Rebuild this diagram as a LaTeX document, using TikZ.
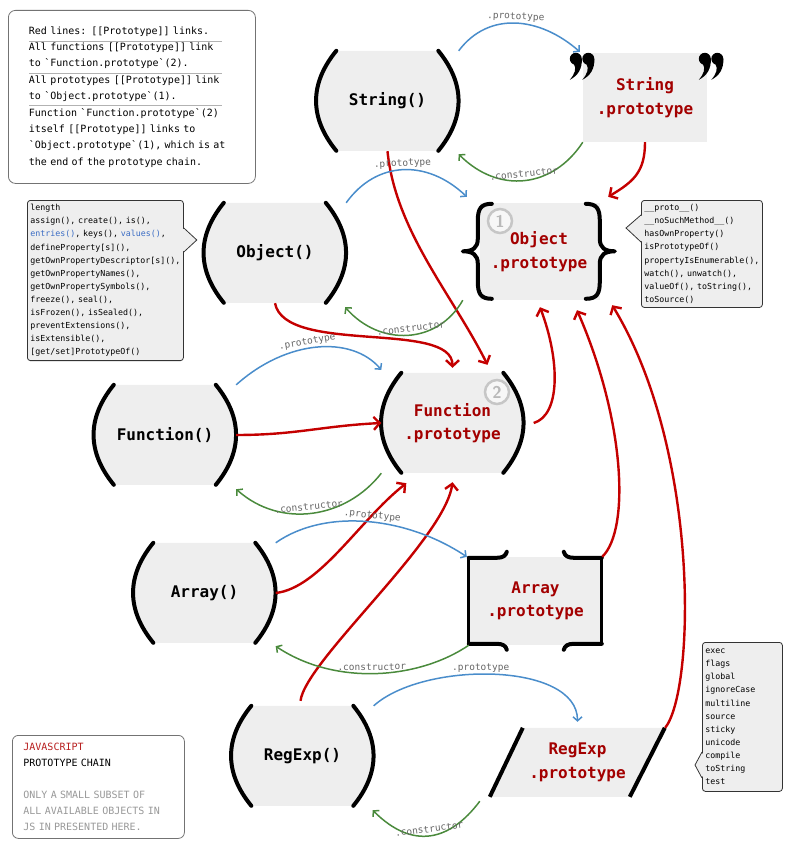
\documentclass[tikz,border=0pt]{standalone}
\usepackage{fontspec}
\setmonofont{DejaVu Sans Mono}
\usetikzlibrary{arrows.meta,calc,backgrounds}

\definecolor{boxgray}{HTML}{EEEEEE}
\definecolor{protored}{HTML}{A30000}
\definecolor{linkred}{HTML}{C40000}
\definecolor{protoblue}{HTML}{4A8DCB}
\definecolor{ctorgreen}{HTML}{4A8A3C}
\definecolor{listblue}{HTML}{3A6CC4}
\definecolor{titlered}{HTML}{B82020}

\tikzset{
  ctor/.style={minimum width=142pt,minimum height=100pt,inner sep=0pt,font=\ttfamily\bfseries\fontsize{16}{20}\selectfont},
  proto/.style={inner sep=0pt,align=center,text=protored,font=\ttfamily\bfseries\fontsize{16}{23.5}\selectfont},
  num/.style={circle,draw=gray!45,line width=2.5pt,fill=gray!6,text=gray!55,minimum size=24pt,inner sep=0pt,font=\sffamily\bfseries\fontsize{17}{17}\selectfont},
  listbox/.style={draw=black!80,fill=boxgray,rounded corners=3pt,line width=0.8pt,align=left,inner xsep=3pt,inner ysep=4pt,font=\ttfamily\fontsize{8.3}{13.1}\selectfont},
  notebox/.style={draw=black!55,fill=white,rounded corners=7pt,line width=0.8pt,align=left,font=\ttfamily\fontsize{10}{16.4}\selectfont},
  link/.style={->,linkred,line width=2.4pt,>={Straight Barb[length=6pt,width=13pt]}},
  protolink/.style={->,protoblue,line width=1.5pt,>={Straight Barb[length=4pt,width=9pt]}},
  ctorlink/.style={->,ctorgreen,line width=1.5pt,>={Straight Barb[length=4pt,width=9pt]}},
  lbl/.style={sloped,above,inner sep=1pt,text=black!60,font=\ttfamily\fontsize{9.5}{10}\selectfont},
  backlbl/.style={lbl,inner sep=2.5pt},
  paren/.style={line width=4pt,line cap=round,line join=round},
}

\begin{document}
\begin{tikzpicture}[x=1pt,y=-1pt]
\useasboundingbox (0,0) rectangle (791,848);

\node[ctor] (str) at (387.5,101) {String()};
\node[ctor] (obj) at (275,253)   {Object()};
\node[ctor] (fun) at (165,435)   {Function()};
\node[ctor] (arr) at (204.5,593) {Array()};
\node[ctor] (reg) at (302.5,756) {RegExp()};

\node[proto,minimum width=124pt,minimum height=89pt] (strp) at (645,97.5)  {String\\.prototype};
\node[proto,minimum width=152pt,minimum height=97pt] (objp) at (539,251.5) {Object\\.prototype};
\node[ctor,proto]                                    (funp) at (452.5,423) {Function\\.prototype};
\node[proto,minimum width=133pt,minimum height=88pt] (arrp) at (535.5,601) {Array\\.prototype};
\node[proto,minimum width=175pt,minimum height=69pt] (regp) at (577.5,762.5) {RegExp\\.prototype};

\node[num] (one) at (500,221) {1};
\node[num] (two) at (497,392) {2};

\begin{scope}[on background layer]
  \foreach \n in {str,obj,fun,arr,reg,funp}{
    \begin{scope}[shift={(\n.north west)}]
      \fill[boxgray] (20,0) .. controls (-7,33) and (-7,67) .. (20,100) -- (122,100) .. controls (149,67) and (149,33) .. (122,0) -- cycle;
      \draw[paren] (20,0) .. controls (-7,33) and (-7,67) .. (20,100);
      \draw[paren] (122,0) .. controls (149,33) and (149,67) .. (122,100);
    \end{scope}
  }
  \begin{scope}[shift={(strp.north west)}]
    \fill[boxgray] (0,0) rectangle (124,89);
    \foreach \h in {-7,5.5,122,134.5}{
      \fill (\h,6) circle (6);
      \fill (\h+6,6) .. controls (\h+6.5,16) and (\h+2,23) .. (\h-6,27) .. controls (\h-1,21) and (\h+1,16) .. (\h-2,11) -- cycle;
    }
  \end{scope}
  \begin{scope}[shift={(objp.north west)}]
    \fill[boxgray] (17,0) rectangle (137,97);
    \draw[paren] (29,1) .. controls (18,1) and (15,6) .. (15,18) -- (15,36) .. controls (15,45) and (10,48.5) .. (0,48.5) .. controls (10,48.5) and (15,52) .. (15,61) -- (15,79) .. controls (15,91) and (18,96) .. (29,96);
    \draw[paren] (123,1) .. controls (134,1) and (137,6) .. (137,18) -- (137,36) .. controls (137,45) and (142,48.5) .. (152,48.5) .. controls (142,48.5) and (137,52) .. (137,61) -- (137,79) .. controls (137,91) and (134,96) .. (123,96);
  \end{scope}
  \begin{scope}[shift={(arrp.north west)}]
    \fill[boxgray] (0,0) rectangle (133,88);
    \draw[line width=3pt] (0,0) -- (0,88) (133,0) -- (133,88);
    \draw[paren] (0,1) -- (28,1) .. controls (34,1) and (37,-1) .. (38,-5)
                 (0,87) -- (28,87) .. controls (34,87) and (37,89) .. (38,93)
                 (133,1) -- (105,1) .. controls (99,1) and (96,-1) .. (95,-5)
                 (133,87) -- (105,87) .. controls (99,87) and (96,89) .. (95,93);
  \end{scope}
  \begin{scope}[shift={(regp.north west)}]
    \fill[boxgray] (33,0) -- (175,0) -- (140,69) -- (0,69) -- cycle;
    \draw[line width=4pt] (33,0) -- (0,69) (175,0) -- (140,69);
  \end{scope}
\end{scope}

\draw[link] (str.south) .. controls +(8,80) and +(-35,-70) .. ($(funp.north)+(35,-8)$);
\draw[link] (strp.south) .. controls +(0,30) and +(25,-15) .. ($(objp.north east)+(-7,-6)$);
\draw[link] (obj.south) .. controls +(10,52) and +(0,-48) .. ($(funp.north)+(0,-5)$);
\draw[link] (fun.east) .. controls +(60,0) and +(-60,3) .. (funp.west);
\draw[link] ($(funp.east)+(10,0)$) .. controls +(27,-8) and +(20,53) .. ($(objp.south)+(1,7)$);
\draw[link] (arr.east) .. controls +(44,-5) and +(-47,37) .. ($(funp.south west)+(25,10)$);
\draw[link] ($(reg.north)+(-2,-5)$) .. controls +(5,-40) and +(-8,58) .. ($(funp.south)+(0,9)$);
\draw[link] (arrp.north east) .. controls +(28,-27) and +(48,110) .. ($(objp.south)+(38,10)$);
\draw[link] (regp.north east) .. controls +(30,-38) and +(88,145) .. ($(objp.south east)+(-3,5)$);

\draw[protolink] (str.north east) .. controls +(30,-40) and +(-40,-35) .. ($(strp.north west)+(-3,-1)$) node[lbl,pos=0.5] {.prototype};
\draw[protolink] (obj.north east) .. controls +(30,-42) and +(-40,-38) .. ($(objp.north west)+(4,-6)$) node[lbl,pos=0.5] {.prototype};
\draw[protolink] (fun.north east) .. controls +(50,-45) and +(-30,-35) .. ($(funp.north west)+(0,-3)$) node[lbl,pos=0.45] {.prototype};
\draw[protolink] (arr.north east) .. controls +(50,-35) and +(-60,-40) .. ($(arrp.north west)+(-2,0)$) node[lbl,pos=0.52] {.prototype};
\draw[protolink] (reg.north east) .. controls +(50,-45) and +(0,-60) .. ($(regp.north)+(0,-6)$) node[lbl,pos=0.45] {.prototype};

\draw[ctorlink] (strp.south west) .. controls +(-30,46) and +(40,40) .. ($(str.south east)+(0,3)$) node[backlbl,pos=0.5] {.constructor};
\draw[ctorlink] (objp.south west) .. controls +(-25,44) and +(35,40) .. ($(obj.south east)+(-1,4)$) node[backlbl,pos=0.47] {.constructor};
\draw[ctorlink] (funp.south west) .. controls +(-35,45) and +(45,40) .. ($(fun.south east)+(0,4)$) node[backlbl,pos=0.52] {.constructor};
\draw[ctorlink] (arrp.south west) .. controls +(-50,34) and +(60,40) .. ($(arr.south east)+(0,3)$) node[backlbl,pos=0.52] {.constructor};
\draw[ctorlink] ($(regp.south west)+(-10,4)$) .. controls +(-30,40) and +(40,40) .. ($(reg.south east)+(-1,4)$) node[backlbl,pos=0.5] {.constructor};

\node[notebox,anchor=north west,text width=206pt,inner xsep=20.5pt,minimum height=173pt] (note) at (8,10)
  {Red lines: [[Prototype]] links.\\All functions [[Prototype]] link\\to `Function.prototype`(2).\\All prototypes [[Prototype]] link\\to `Object.prototype`(1).\\Function `Function.prototype`(2)\\itself [[Prototype]] links to\\`Object.prototype`(1), which is at\\the end of the prototype chain.};
\foreach \s in {32,63.5,96}
  \draw[black!30,line width=1pt] ($(note.north west)+(21,\s)$) -- ++(193,0);

\node[listbox,anchor=north west,text width=150pt] (objlist) at (27,200)
  {length\\assign(), create(), is(),\\{\color{listblue}entries()}, keys(), {\color{listblue}values()},\\defineProperty[s](),\\getOwnPropertyDescriptor[s](),\\getOwnPropertyNames(),\\getOwnPropertySymbols(),\\freeze(), seal(),\\isFrozen(), isSealed(),\\preventExtensions(),\\isExtensible(),\\{}[get/set]PrototypeOf()};
\fill[boxgray] ($(objlist.north east)+(-1.5,28)$) -- ($(objlist.north east)+(13,40)$) -- ($(objlist.north east)+(-1.5,52)$) -- cycle;
\draw[black!80,line width=0.8pt] ($(objlist.north east)+(0,28)$) -- ($(objlist.north east)+(13,40)$) -- ($(objlist.north east)+(0,52)$);

\node[listbox,anchor=north west,text width=115pt] (objplist) at (641,200)
  {\_\_proto\_\_()\\\_\_noSuchMethod\_\_()\\hasOwnProperty()\\isPrototypeOf()\\propertyIsEnumerable(),\\watch(), unwatch(),\\valueOf(), toString(),\\toSource()};
\fill[boxgray] ($(objplist.north west)+(1.5,15)$) -- ($(objplist.north west)+(-15,28)$) -- ($(objplist.north west)+(1.5,42)$) -- cycle;
\draw[black!80,line width=0.8pt] ($(objplist.north west)+(0,15)$) -- ($(objplist.north west)+(-15,28)$) -- ($(objplist.north west)+(0,42)$);

\node[listbox,anchor=north west,text width=74pt,minimum height=149pt] (regplist) at (702,642)
  {exec\\flags\\global\\ignoreCase\\multiline\\source\\sticky\\unicode\\compile\\toString\\test};
\fill[boxgray] ($(regplist.north west)+(1.5,110)$) -- ($(regplist.north west)+(-7,123)$) -- ($(regplist.north west)+(1.5,136)$) -- cycle;
\draw[black!80,line width=0.8pt] ($(regplist.north west)+(0,110)$) -- ($(regplist.north west)+(-7,123)$) -- ($(regplist.north west)+(0,136)$);

\node[notebox,anchor=north west,text width=150pt,inner xsep=11pt,minimum height=103pt,rounded corners=6pt,font=\ttfamily\fontsize{10}{16}\selectfont] (title) at (12,735)
  {{\color{titlered}JAVASCRIPT}\\PROTOTYPE CHAIN\\[16pt]\color{black!40}ONLY A SMALL SUBSET OF\\ALL AVAILABLE OBJECTS IN\\JS IN PRESENTED HERE.};

\end{tikzpicture}
\end{document}
